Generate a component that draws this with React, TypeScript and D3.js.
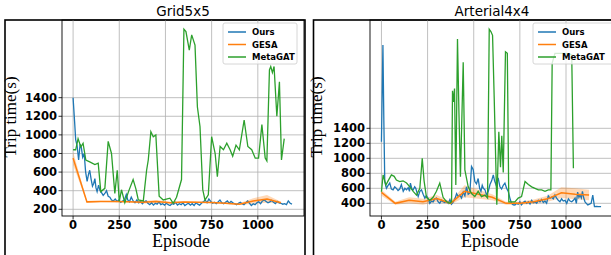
import * as d3 from "d3";

// ---- Grid5x5 ----
const gridOursEp = [0,8,14,22,30,38,45,52,60,68,76,84,90,98,105,112,118,124,130,138,146,154,163,172,181,190,199,208,218,228,238,248,258,268,278,288,296,305,315,325,335,345,355,365,375,385,395,405,415,425,435,445,455,465,475,485,495,505,515,525,535,545,555,565,575,585,595,605,615,625,635,645,655,665,675,685,695,705,715,725,735,745,755,765,775,785,795,805,815,825,835,845,855,865,875,885,895,905,915,925,935,945,955,965,975,985,995,1005,1015,1025,1035,1045,1055,1065,1075,1085,1095,1105,1115,1125,1135,1145,1155,1165,1175,1185];
const gridOursVal = [1400,1150,950,880,730,900,860,760,800,600,500,580,620,520,450,480,530,430,390,460,400,380,350,370,400,340,330,300,290,310,285,300,275,290,300,360,300,280,330,290,270,300,270,285,260,280,290,265,250,270,245,265,255,280,250,260,245,265,250,240,260,255,275,245,260,250,270,240,255,265,245,260,240,270,255,245,265,280,300,270,310,285,265,275,260,280,300,270,260,275,290,265,285,270,260,250,265,275,260,250,270,290,265,240,260,250,270,280,260,290,300,285,270,280,295,275,260,285,270,265,255,260,250,290,265,255];

const gesaEp = [0,75,150,225,300,375,450,525,600,675,750,825,900,975,1050,1125];
const gridGesaMean = [750,280,285,283,280,275,283,270,278,275,272,265,255,290,310,270];
const gridGesaLo = [680,270,278,276,272,262,262,262,270,268,264,258,245,260,270,262];
const gridGesaHi = [820,290,292,290,288,288,300,280,286,282,280,272,265,320,355,280];

const gridMetaEp = [0,14,27,42,54,69,90,118,136,150,172,190,208,226,239,250,262,280,300,325,340,353,380,398,407,421,434,448,466,488,524,542,560,587,600,611,629,642,660,673,687,702,714,732,750,769,781,796,814,832,850,864,882,900,926,946,967,986,1004,1022,1040,1049,1063,1070,1079,1088,1103,1117,1128,1143];
const gridMetaVal = [840,840,960,870,910,730,710,680,695,390,425,930,800,370,620,285,410,270,390,520,420,300,290,620,730,1035,980,1000,340,300,320,265,330,520,2135,2110,1910,2075,1965,1300,1090,410,300,355,980,800,550,875,840,910,840,770,890,840,1160,875,840,750,750,1110,750,720,1700,1735,1670,1735,1200,1570,730,960];

// ---- Arterial4x4 ----
const artOursEp = [0,8,13,18,27,36,45,54,63,72,81,90,99,108,118,127,136,145,152,157,165,172,180,186,193,199,208,217,226,235,243,250,262,271,280,289,298,307,316,325,334,343,353,362,371,380,389,398,407,416,425,434,443,452,461,470,479,488,497,506,515,524,532,539,546,552,561,570,579,588,597,606,613,620,627,633,642,651,660,669,678,687,696,705,714,723,732,741,750,759,768,778,787,796,805,814,823,832,841,850,859,868,877,886,895,904,913,922,931,940,949,958,967,976,985,995,1004,1013,1022,1031,1040,1049,1056,1063,1070,1076,1083,1089,1096,1103,1110,1118,1127,1136,1145,1154,1165,1175,1190];
const artOursVal = [1222,2510,1500,690,600,640,670,590,580,620,600,570,590,650,560,600,580,610,560,670,590,580,620,600,540,490,560,580,520,470,500,480,400,430,420,460,470,420,400,440,420,410,430,400,450,390,420,460,530,490,510,470,550,500,620,520,540,890,850,690,660,730,600,560,640,600,580,510,560,650,700,780,700,650,720,730,620,590,640,670,600,560,470,400,380,378,400,390,420,380,410,430,400,420,390,440,410,420,400,440,420,450,410,430,400,500,470,480,460,510,470,440,420,460,430,440,400,460,430,420,440,470,400,550,480,510,470,560,470,420,400,378,390,400,510,356,360,356,355];

const artGesaMean = [545,400,440,420,465,400,560,520,480,400,400,420,460,540,520,510];
const artGesaLo = [500,380,400,380,420,385,480,460,440,380,380,395,420,470,455,440];
const artGesaHi = [580,420,480,460,510,420,640,580,520,420,420,450,500,615,600,580];

const artMetaEp = [0,9,24,36,54,69,81,99,117,136,154,172,190,208,221,231,244,262,280,298,316,334,353,371,380,385,390,396,403,412,420,428,443,452,470,488,506,524,542,561,575,584,593,602,611,625,636,645,652,660,672,682,690,705,723,741,759,778,796,814,832,850,868,886,904,918,925,940,967,1004,1031,1040];
const artMetaVal = [555,780,645,700,780,760,710,690,700,670,620,560,510,600,1000,700,480,440,480,560,670,480,420,400,420,1900,1750,1930,645,2590,1600,755,2280,845,620,530,490,560,490,510,470,2720,2690,2640,1800,380,1355,880,1300,810,2420,2400,420,420,420,470,490,690,650,620,600,580,580,560,580,580,2270,2400,2400,2400,2380,867];

const seriesNames = ["Ours", "GESA", "MetaGAT"];
const COLORS = ["#1f77b4", "#ff7f0e", "#2ca02c"];
const xTicks = [0, 250, 500, 750, 1000];

interface PanelProps {
    id: string;
    title: string;
    frameX: number;
    frameW: number;
    left: number;
    right: number;
    xDomain: [number, number];
    yDomain: [number, number];
    yTicks: number[];
    labelX: number;
    ours: [number[], number[]];
    gesa: [number[], number[], number[]];
    meta: [number[], number[]];
    legendX: number;
    legendW: number;
}

const TOP = 20;
const BOTTOM = 216;

function Panel(p: PanelProps) {
    const x = d3.scaleLinear().domain(p.xDomain).range([p.left, p.right]);
    const y = d3.scaleLinear().domain(p.yDomain).range([BOTTOM, TOP]);
    const line = d3.line<[number, number]>().x(d => x(d[0])).y(d => y(d[1]));
    const area = d3.area<number>()
        .x((_, i) => x(gesaEp[i]))
        .y0((_, i) => y(p.gesa[1][i]))
        .y1((_, i) => y(p.gesa[2][i]));
    const zip = (a: number[], b: number[]) => a.map((v, i) => [v, b[i]] as [number, number]);
    const cx = (p.left + p.right) / 2;
    const tickFont = { fontFamily: "DejaVu Sans", fontWeight: "bold" as const, fontSize: 11.5 };
    return (
        <g>
            <defs>
                <clipPath id={p.id}>
                    <rect x={p.left} y={TOP} width={p.right - p.left} height={BOTTOM - TOP} />
                </clipPath>
            </defs>
            {/* outer frame */}
            <rect x={p.frameX} y={TOP} width={p.frameW} height={260} fill="none" stroke="#000" strokeWidth={1.6} />
            {/* grid */}
            {xTicks.map(t => <line key={"gx" + t} x1={x(t)} x2={x(t)} y1={TOP} y2={BOTTOM} stroke="#b0b0b0" strokeWidth={0.8} />)}
            {p.yTicks.map(t => <line key={"gy" + t} x1={p.left} x2={p.right} y1={y(t)} y2={y(t)} stroke="#b0b0b0" strokeWidth={0.8} />)}
            <g clipPath={`url(#${p.id})`}>
                <path d={area(p.gesa[0]) ?? ""} fill={COLORS[1]} opacity={0.3} />
                <path d={line(zip(p.ours[0], p.ours[1])) ?? ""} fill="none" stroke={COLORS[0]} strokeWidth={1.3} />
                <path d={line(zip(gesaEp, p.gesa[0])) ?? ""} fill="none" stroke={COLORS[1]} strokeWidth={1.5} />
                <path d={line(zip(p.meta[0], p.meta[1])) ?? ""} fill="none" stroke={COLORS[2]} strokeWidth={1.3} />
            </g>
            <rect x={p.left} y={TOP} width={p.right - p.left} height={BOTTOM - TOP} fill="none" stroke="#000" strokeWidth={0.9} />
            {/* y ticks */}
            {p.yTicks.map(t => (
                <g key={"ty" + t}>
                    <line x1={p.left - 3.5} x2={p.left} y1={y(t)} y2={y(t)} stroke="#000" strokeWidth={0.8} />
                    <text x={p.left - 5} y={y(t)} dy="0.36em" textAnchor="end" {...tickFont}>{t}</text>
                </g>
            ))}
            {/* x ticks */}
            {xTicks.map(t => (
                <g key={"tx" + t}>
                    <line x1={x(t)} x2={x(t)} y1={BOTTOM} y2={BOTTOM + 3.5} stroke="#000" strokeWidth={0.8} />
                    <text x={x(t)} y={229} textAnchor="middle" {...tickFont}>{t}</text>
                </g>
            ))}
            <text x={cx} y={16} textAnchor="middle" fontFamily="DejaVu Sans" fontSize={13.5}>{p.title}</text>
            <text x={cx - 2} y={247} textAnchor="middle" fontFamily="Liberation Serif" fontSize={18}>Episode</text>
            <text transform={`translate(${p.labelX},117) rotate(-90)`} textAnchor="middle" fontFamily="Liberation Serif" fontSize={17}>Trip time(s)</text>
            {/* legend */}
            <rect x={p.legendX} y={23} width={p.legendW} height={41} rx={2} fill="#fff" fillOpacity={0.8} stroke="#cccccc" strokeWidth={0.8} />
            {seriesNames.map((s, i) => (
                <g key={s}>
                    <line x1={p.legendX + 5} x2={p.legendX + 23} y1={32 + i * 12.5} y2={32 + i * 12.5} stroke={COLORS[i]} strokeWidth={1.5} />
                    <text x={p.legendX + 29} y={32 + i * 12.5} dy="0.36em" fontFamily="DejaVu Sans" fontWeight="bold" fontSize={8.5}>{s}</text>
                </g>
            ))}
        </g>
    );
}

export default function App() {
    return (
        <svg width={611} height={255} style={{ position: "absolute", left: 0, top: 0, background: "#fff" }}>
            <Panel id="c1" title="Grid5x5" frameX={5} frameW={300} left={62} right={304}
                xDomain={[-60, 1250]} yDomain={[128, 2235]}
                yTicks={[200, 400, 600, 800, 1000, 1200, 1400]} labelX={16}
                ours={[gridOursEp, gridOursVal]}
                gesa={[gridGesaMean, gridGesaLo, gridGesaHi]}
                meta={[gridMetaEp, gridMetaVal]} legendX={223} legendW={74} />
            <Panel id="c2" title="Arterial4x4" frameX={313.5} frameW={320} left={370} right={614}
                xDomain={[-62, 1260]} yDomain={[231, 2844]}
                yTicks={[400, 600, 800, 1000, 1200, 1400]} labelX={322}
                ours={[artOursEp, artOursVal]}
                gesa={[artGesaMean, artGesaLo, artGesaHi]}
                meta={[artMetaEp, artMetaVal]} legendX={533} legendW={82} />
        </svg>
    );
}
